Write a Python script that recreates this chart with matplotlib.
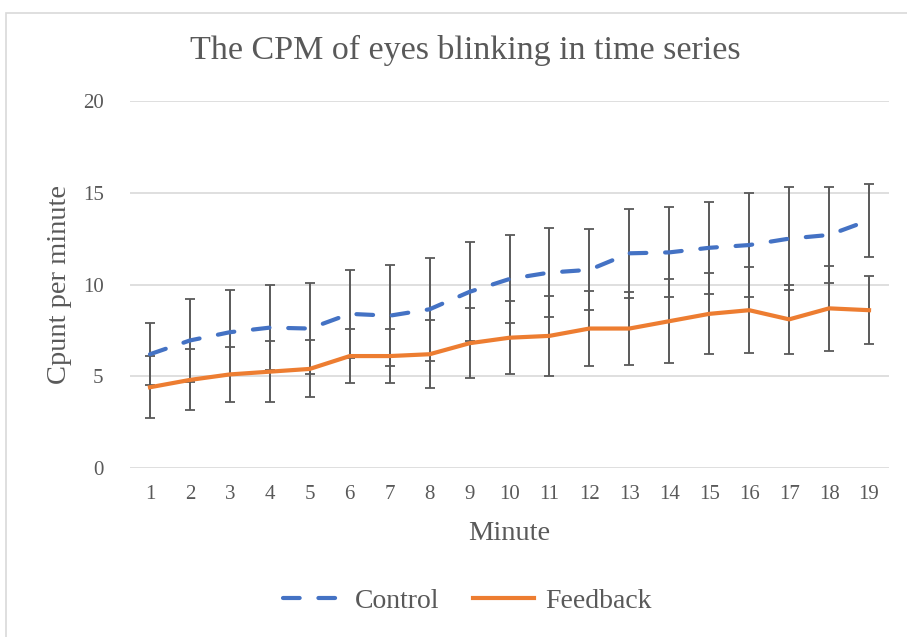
import numpy as np
import matplotlib.pyplot as plt
from matplotlib.patches import Rectangle
from matplotlib.lines import Line2D

minutes = list(range(1, 20))
control = [6.2, 6.95, 7.4, 7.65, 7.6, 8.4, 8.3, 8.65, 9.6, 10.3,
           10.65, 10.8, 11.7, 11.75, 12.0, 12.15, 12.5, 12.7, 13.5]
control_err = [1.7, 2.25, 2.3, 2.33, 2.48, 2.41, 2.76, 2.82, 2.7, 2.4,
               2.44, 2.2, 2.41, 2.45, 2.5, 2.85, 2.8, 2.6, 2.0]
feedback = [4.4, 4.8, 5.1, 5.25, 5.4, 6.1, 6.1, 6.2, 6.8, 7.1,
            7.2, 7.6, 7.6, 8.0, 8.4, 8.6, 8.1, 8.7, 8.6]
feedback_err = [1.7, 1.66, 1.5, 1.66, 1.55, 1.49, 1.49, 1.85, 1.9, 2.0,
                2.2, 2.06, 2.0, 2.3, 2.2, 2.36, 1.9, 2.3, 1.85]

plt.rcParams['font.family'] = ['Liberation Serif', 'DejaVu Serif']
grey = '#595959'
blue = '#4472C4'
orange = '#ED7D31'
dash = (0, (4, 4.5))

W, H = 907, 637
dpi = 100
fig = plt.figure(figsize=(W / dpi, H / dpi), dpi=dpi)

# chart frame (light border like the office chart area)
fig.patches.append(Rectangle((6 / W, -0.1), 1.1, (H - 13) / H + 0.1,
                             transform=fig.transFigure, fill=False,
                             edgecolor='#D9D9D9', linewidth=1.2))

ax = fig.add_axes([130 / W, (H - 468) / H, 759 / W, 367 / H])

ax.errorbar(minutes, control, yerr=control_err, color=blue, lw=3,
            ls=dash, dash_capstyle='round', ecolor=grey, elinewidth=1.4,
            capsize=3.8, capthick=1.3, zorder=3)
ax.errorbar(minutes, feedback, yerr=feedback_err, color=orange, lw=3,
            ecolor=grey, elinewidth=1.4, capsize=3.8, capthick=1.3,
            zorder=3)

ax.set_xlim(0.5, 19.5)
ax.set_ylim(0, 20)
ax.set_xticks(minutes)
ax.set_yticks([0, 5, 10, 15, 20])
ax.grid(axis='y', color='#D9D9D9', lw=1.2)
ax.set_axisbelow(True)
for s in ax.spines.values():
    s.set_visible(False)
ax.tick_params(length=0, labelsize=15, colors=grey, labelcolor=grey)
ax.tick_params(axis='y', pad=19)
ax.tick_params(axis='x', pad=12)

fig.text(465 / W, 1 - 50 / H, 'The CPM of eyes blinking in time series',
         fontsize=24.5, color=grey, ha='center', va='center')

ax.set_xlabel('Minute', fontsize=20.5, color=grey)
ax.xaxis.label.set_va('center')
ax.xaxis.set_label_coords(0.5, -(533 - 468) / 367)
ax.set_ylabel('Cpunt per minute', fontsize=20.5, color=grey)
ax.yaxis.label.set_va('center')
ax.yaxis.set_label_coords((60 - 130) / 759, 0.5)

handles = [Line2D([], [], color=blue, lw=3, ls=dash, dash_capstyle='round'),
           Line2D([], [], color=orange, lw=3)]
ax.legend(handles, ['Control', 'Feedback'], loc='center',
          bbox_to_anchor=((467 - 130) / 759, -(601 - 468) / 367), ncol=2,
          frameon=False, fontsize=20, handlelength=2.2, columnspacing=1.2,
          handletextpad=0.4, labelcolor=grey)

fig.savefig('out.png', dpi=dpi)
plt.close(fig)
